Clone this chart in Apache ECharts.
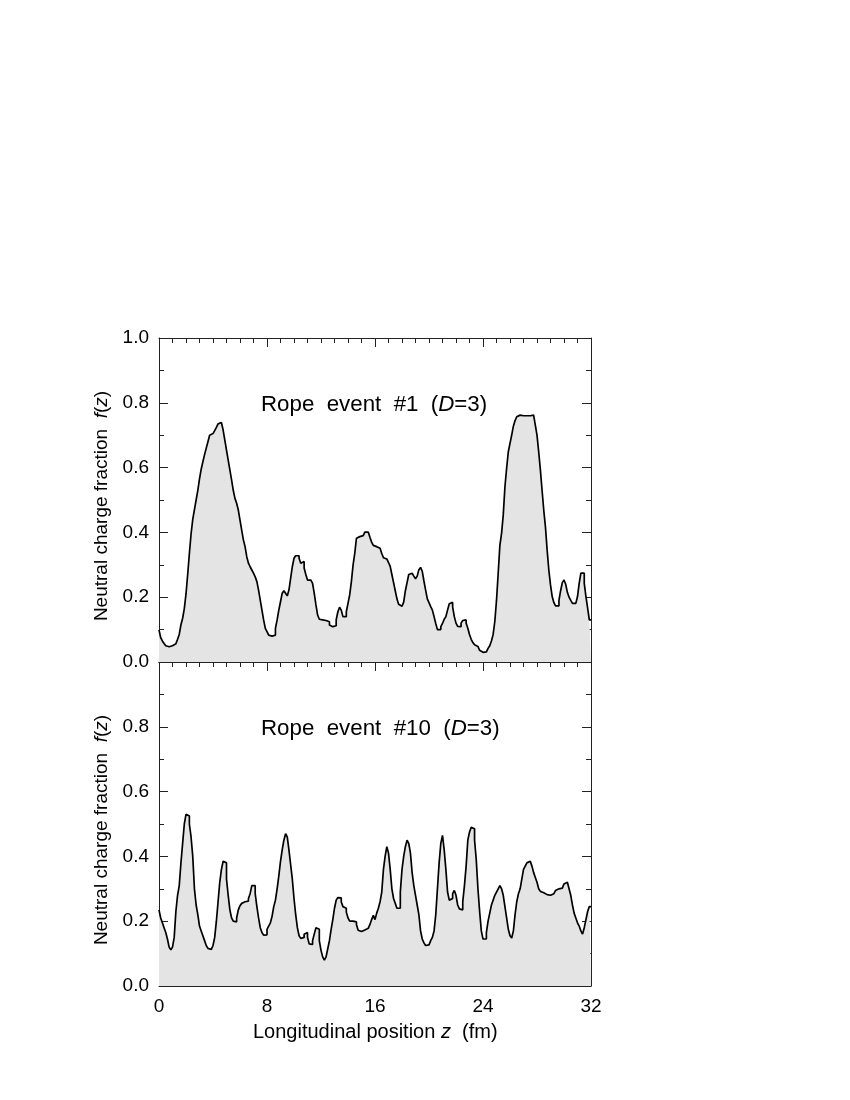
<!DOCTYPE html>
<html><head><meta charset="utf-8">
<script src="https://cdn.jsdelivr.net/npm/echarts@6/dist/echarts.min.js"></script>
<style>html,body{margin:0;padding:0;background:#fff}#c{width:850px;height:1100px}</style>
</head><body><div id="c"></div>
<script>
var zRange = [0, 32];
var xTickLabels = ['0', '8', '16', '24', '32'];
var yTickLabels = ['0.0', '0.2', '0.4', '0.6', '0.8', '1.0'];
var titleTop = 'Rope  event  #1';
var titleBottom = 'Rope  event  #10';

// event #1, bins of 0.125 fm
var event1 = [
 0.099,0.075,0.065,0.057,0.050,0.047,0.047,0.050,0.053,0.056,0.061,0.070,0.085,0.115,0.135,0.165,
 0.210,0.270,0.335,0.395,0.440,0.470,0.500,0.530,0.565,0.595,0.618,0.640,0.660,0.680,0.700,0.705,
 0.708,0.714,0.724,0.735,0.739,0.735,0.716,0.685,0.654,0.623,0.593,0.562,0.530,0.505,0.490,0.469,
 0.438,0.407,0.377,0.356,0.325,0.305,0.294,0.284,0.274,0.263,0.248,0.222,0.191,0.160,0.130,0.104,
 0.094,0.083,0.080,0.080,0.083,0.104,0.130,0.160,0.186,0.212,0.220,0.212,0.204,0.222,0.258,0.294,
 0.320,0.328,0.328,0.320,0.305,0.310,0.290,0.270,0.253,0.253,0.248,0.243,0.212,0.176,0.145,0.132,
 0.130,0.130,0.128,0.126,0.124,0.114,0.109,0.109,0.112,0.130,0.155,0.169,0.160,0.140,0.140,0.155,
 0.181,0.207,0.248,0.299,0.335,0.382,0.387,0.387,0.390,0.392,0.401,0.401,0.395,0.385,0.370,0.360,
 0.356,0.351,0.351,0.345,0.335,0.322,0.318,0.312,0.307,0.295,0.270,0.245,0.220,0.195,0.178,0.172,
 0.171,0.185,0.220,0.245,0.270,0.274,0.274,0.265,0.257,0.265,0.285,0.292,0.280,0.250,0.222,0.195,
 0.183,0.171,0.160,0.140,0.119,0.100,0.100,0.109,0.119,0.132,0.140,0.160,0.180,0.184,0.170,0.140,
 0.120,0.110,0.109,0.120,0.128,0.130,0.120,0.104,0.085,0.070,0.060,0.053,0.048,0.043,0.036,0.030,
 0.029,0.031,0.036,0.042,0.050,0.065,0.085,0.125,0.190,0.274,0.360,0.397,0.454,0.541,0.598,0.649,
 0.675,0.700,0.728,0.745,0.757,0.762,0.762,0.760,0.760,0.760,0.760,0.760,0.760,0.762,0.757,0.731,
 0.700,0.649,0.593,0.530,0.469,0.417,0.346,0.284,0.238,0.202,0.183,0.173,0.173,0.190,0.220,0.245,
 0.253,0.240,0.215,0.200,0.190,0.181,0.181,0.183,0.202,0.243,0.274,0.274,0.243,0.202,0.166,0.130
];
// event #10, bins of 0.125 fm
var event10 = [
 0.235,0.210,0.195,0.180,0.165,0.145,0.120,0.112,0.120,0.150,0.230,0.280,0.310,0.380,0.440,0.500,
 0.530,0.525,0.500,0.460,0.400,0.300,0.250,0.220,0.185,0.170,0.155,0.140,0.125,0.116,0.113,0.113,
 0.125,0.150,0.200,0.260,0.320,0.360,0.385,0.380,0.330,0.280,0.235,0.210,0.200,0.198,0.210,0.235,
 0.248,0.255,0.260,0.260,0.262,0.270,0.285,0.310,0.310,0.285,0.245,0.210,0.180,0.165,0.157,0.158,
 0.175,0.185,0.195,0.215,0.245,0.265,0.300,0.340,0.385,0.420,0.450,0.470,0.460,0.420,0.375,0.330,
 0.270,0.220,0.180,0.155,0.147,0.150,0.160,0.165,0.150,0.130,0.128,0.140,0.160,0.180,0.175,0.140,
 0.110,0.090,0.080,0.090,0.115,0.140,0.175,0.205,0.240,0.265,0.273,0.272,0.260,0.245,0.240,0.228,
 0.210,0.200,0.200,0.200,0.198,0.190,0.172,0.168,0.170,0.173,0.176,0.178,0.182,0.190,0.205,0.218,
 0.205,0.225,0.240,0.260,0.290,0.360,0.400,0.430,0.410,0.360,0.300,0.270,0.255,0.240,0.240,0.290,
 0.360,0.400,0.430,0.450,0.440,0.410,0.350,0.310,0.280,0.250,0.220,0.170,0.145,0.133,0.125,0.127,
 0.132,0.140,0.150,0.170,0.220,0.300,0.380,0.440,0.465,0.420,0.360,0.290,0.265,0.270,0.285,0.295,
 0.280,0.250,0.238,0.235,0.260,0.310,0.370,0.450,0.475,0.490,0.485,0.450,0.390,0.300,0.230,0.170,
 0.145,0.145,0.165,0.200,0.225,0.250,0.265,0.280,0.290,0.300,0.310,0.300,0.280,0.245,0.210,0.175,
 0.155,0.148,0.170,0.220,0.260,0.285,0.300,0.330,0.360,0.370,0.380,0.385,0.385,0.370,0.350,0.335,
 0.320,0.300,0.292,0.288,0.285,0.282,0.280,0.280,0.280,0.285,0.290,0.295,0.300,0.300,0.302,0.308,
 0.315,0.320,0.315,0.300,0.280,0.250,0.225,0.210,0.195,0.185,0.170,0.160,0.180,0.205,0.230,0.245
];

function toSteps(vals) {
  var w = (zRange[1] - zRange[0]) / vals.length;
  var out = vals.map(function (v, i) { return [zRange[0] + i * w, v]; });
  out.push([zRange[1], vals[vals.length - 1]]);
  return out;
}

var FONT = 'Liberation Sans, Arial, Helvetica, sans-serif';
var AX = '#222';

function xAx(gi, pos, labels) {
  return {
    type: 'value', gridIndex: gi, position: pos, min: 0, max: 32, interval: 8,
    axisLine: { show: true, onZero: false, lineStyle: { color: AX, width: 1 } },
    axisTick: { show: true, inside: true, length: 9, lineStyle: { color: AX } },
    minorTick: { show: true, splitNumber: 8, length: 5, lineStyle: { color: AX } },
    splitLine: { show: false }, minorSplitLine: { show: false },
    axisLabel: labels ? { show: true, fontFamily: FONT, fontSize: 19, color: '#000', margin: 11,
      formatter: function (v) { var i = xTickLabels.indexOf(String(v)); return i >= 0 ? xTickLabels[i] : ''; } } : { show: false }
  };
}
function yAx(gi, pos, labels, hideTop) {
  var o = {
    type: 'value', gridIndex: gi, position: pos, min: 0, max: 1, interval: 0.2,
    axisLine: { show: true, onZero: false, lineStyle: { color: AX, width: 1 } },
    axisTick: { show: true, inside: true, length: 9, lineStyle: { color: AX } },
    minorTick: { show: true, splitNumber: 2, length: 5, lineStyle: { color: AX } },
    splitLine: { show: false }, minorSplitLine: { show: false },
    axisLabel: { show: false }
  };
  if (labels) {
    o.axisLabel = { show: true, fontFamily: FONT, fontSize: 19, color: '#000', margin: 10,
      formatter: function (v) {
        var s = v.toFixed(1);
        if (hideTop && s === '1.0') return '';
        return yTickLabels.indexOf(s) >= 0 ? s : '';
      } };
    o.name = '{n|Neutral charge fraction  }{i|f}{n|(}{i|z}{n|)}{pad|}';
    o.nameLocation = 'middle';
    o.nameGap = 40;
    o.nameRotate = 90;
    o.nameTextStyle = { rich: {
      n: { fontFamily: FONT, fontSize: 19, color: '#000' },
      i: { fontFamily: FONT, fontSize: 19, color: '#000', fontStyle: 'italic' },
      pad: { width: 12, fontSize: 19 } } };
  }
  return o;
}

var chart = echarts.init(document.getElementById('c'), null, { renderer: 'canvas' });
var titleRich = {
  n: { fontFamily: FONT, fontSize: 22.3, color: '#000', fontWeight: 'normal' },
  i: { fontFamily: FONT, fontSize: 22.3, color: '#000', fontStyle: 'italic', fontWeight: 'normal' }
};
var option = {
  backgroundColor: '#fff',
  animation: false,
  title: [
    { text: '{n|' + titleTop + '  (}{i|D}{n|=3)}', left: 256, top: 389, textAlign: 'left',
      textStyle: { fontWeight: 'normal', rich: titleRich } },
    { text: '{n|' + titleBottom + '  (}{i|D}{n|=3)}', left: 256, top: 713, textAlign: 'left',
      textStyle: { fontWeight: 'normal', rich: titleRich } },
    { text: '{n|Longitudinal position }{i|z}{n|  (fm)}', left: 248, top: 1017, textAlign: 'left',
      textStyle: { fontWeight: 'normal', rich: {
        n: { fontFamily: FONT, fontSize: 20, color: '#000', fontWeight: 'normal' },
        i: { fontFamily: FONT, fontSize: 20, color: '#000', fontStyle: 'italic', fontWeight: 'normal' } } } }
  ],
  grid: [
    { left: 159, top: 338, width: 432, height: 324, show: false },
    { left: 159, top: 662, width: 432, height: 324, show: false }
  ],
  xAxis: [xAx(0, 'bottom', false), xAx(0, 'top', false), xAx(1, 'bottom', true), xAx(1, 'top', false)],
  yAxis: [yAx(0, 'left', true, false), yAx(0, 'right', false), yAx(1, 'left', true, true), yAx(1, 'right', false)],
  series: [
    { type: 'line', xAxisIndex: 0, yAxisIndex: 0, step: 'end', data: toSteps(event1), symbol: 'none',
      lineStyle: { color: '#000', width: 1.7 }, areaStyle: { color: '#e4e4e4', opacity: 1 }, z: 1 },
    { type: 'line', xAxisIndex: 2, yAxisIndex: 2, step: 'end', data: toSteps(event10), symbol: 'none',
      lineStyle: { color: '#000', width: 1.7 }, areaStyle: { color: '#e4e4e4', opacity: 1 }, z: 1 }
  ]
};
chart.setOption(option);
</script></body></html>
